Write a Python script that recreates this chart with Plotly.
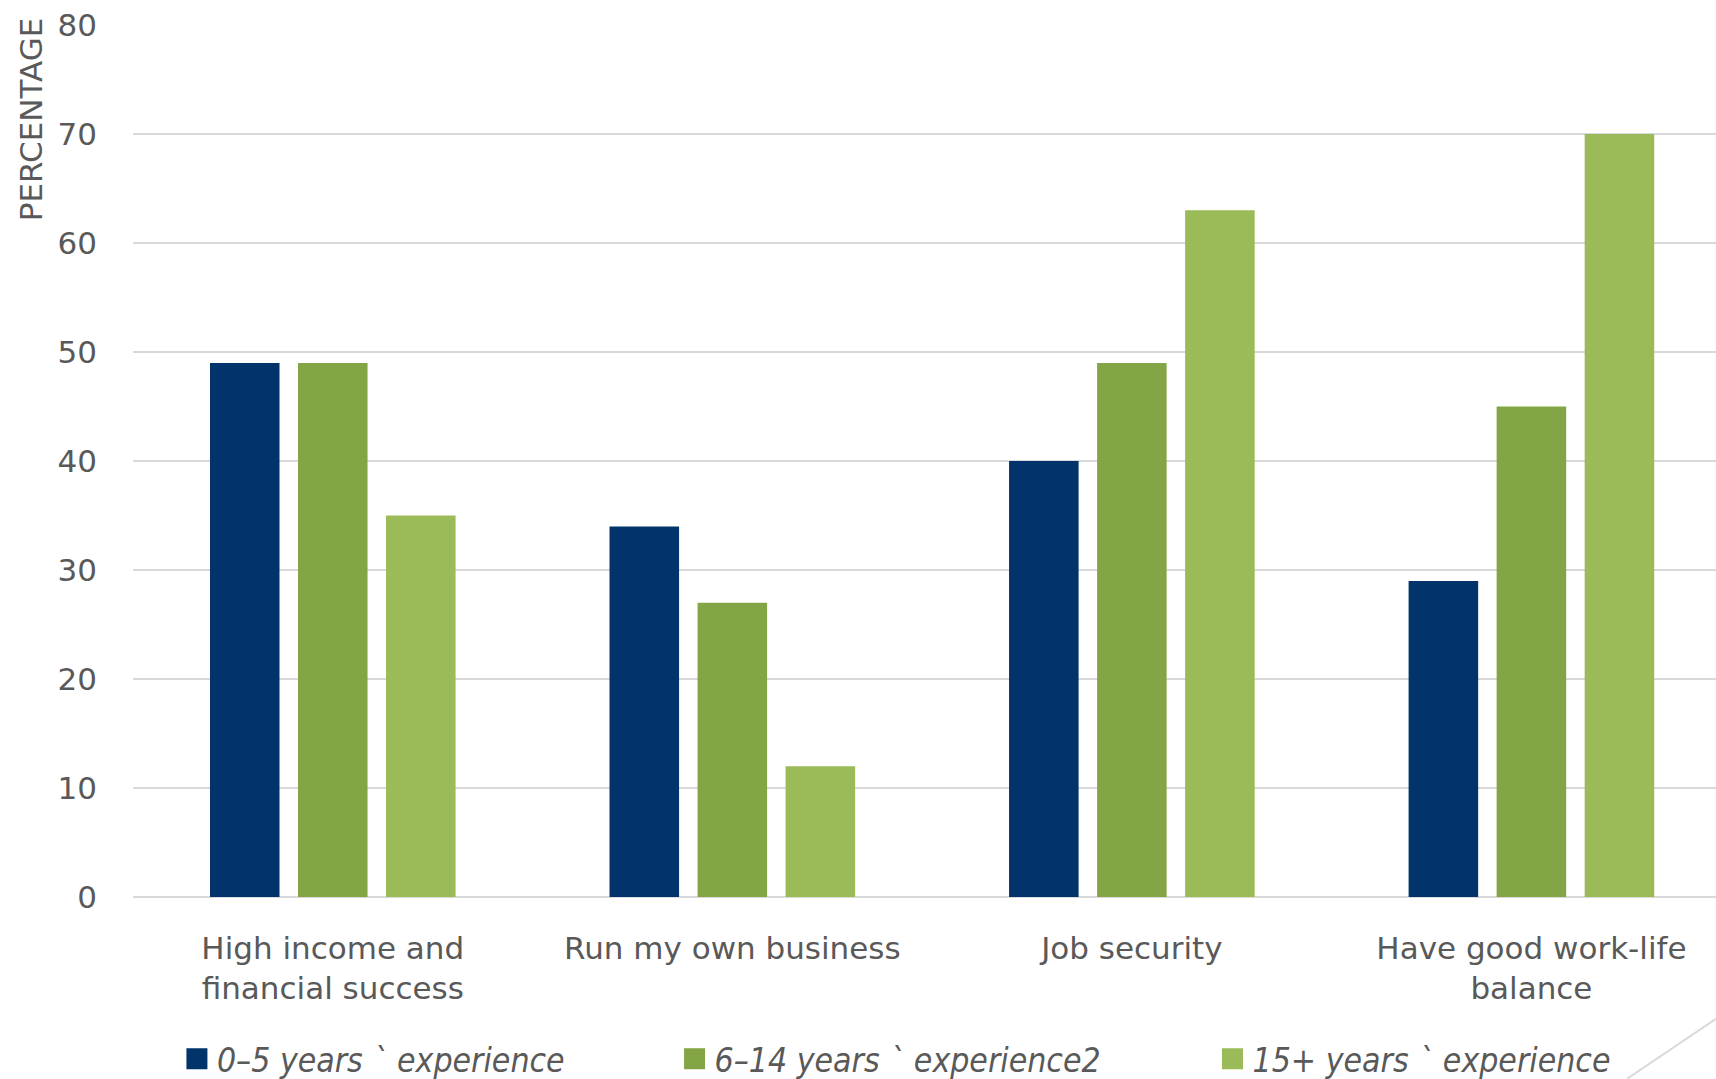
import plotly.graph_objects as go

categories = ["High income and<br>financial success", "Run my own business", "Job security", "Have good work-life<br>balance"]
series_names = ["0–5 years ` experience", "6–14 years ` experience2", "15+ years ` experience"]
vals_0_5 = [49, 34, 40, 29]
vals_6_14 = [49, 27, 49, 45]
vals_15 = [35, 12, 63, 70]
colors = ["#02346B", "#84A545", "#9BBB59"]
y_ticks = [0, 10, 20, 30, 40, 50, 60, 70, 80]

legend_ids = ["legend", "legend2", "legend3"]
legend_x = [0.1031, 0.3931, 0.7066]

text_col = "#595959"

fig = go.Figure()
for name, vals, col, lid in zip(series_names, [vals_0_5, vals_6_14, vals_15], colors, legend_ids):
    fig.add_trace(go.Bar(x=categories, y=vals, name=name, marker_color=col, marker_line_width=0,
                         showlegend=False, legendgroup=name))
    # legend entry (larger square swatch)
    fig.add_trace(go.Scatter(x=[None], y=[None], mode="markers", name=name, legendgroup=name, legend=lid,
                             marker=dict(symbol="square", size=16, color=col, line=dict(color=col, width=5))))

legend_common = dict(orientation="h", xref="container", yref="container", y=0.0185, yanchor="middle",
                     xanchor="left", bgcolor="rgba(0,0,0,0)",
                     font=dict(family="DejaVu Sans Condensed, DejaVu Sans", style="italic", size=33.5, color=text_col))
legends = {}
for lid, lx in zip(legend_ids, legend_x):
    legends[lid] = dict(legend_common, x=lx)

fig.update_layout(
    width=1716, height=1079,
    margin=dict(l=133, r=0, t=25, b=182, autoexpand=False),
    paper_bgcolor="white", plot_bgcolor="white",
    barmode="group", bargap=0.339, bargroupgap=0.21,
    font=dict(family="DejaVu Sans", color=text_col, size=31),
    showlegend=True,
    xaxis=dict(range=[-0.5, 3.462], showgrid=False, showline=False, ticks="", ticklabelstandoff=30,
               tickfont=dict(size=31, color=text_col)),
    yaxis=dict(range=[0, 80], tickvals=y_ticks, showgrid=True, gridcolor="#D9D9D9", gridwidth=2,
               zeroline=True, zerolinecolor="#D9D9D9", zerolinewidth=2, showline=False,
               ticklabelstandoff=35, tickfont=dict(size=31, color=text_col)),
    annotations=[dict(text="PERCENTAGE", textangle=-90, xref="paper", yref="paper", x=-0.0644, y=0.892,
                      showarrow=False, font=dict(size=31, color=text_col), xanchor="center", yanchor="middle")],
    shapes=[dict(type="line", xref="paper", yref="paper", x0=1.0, y0=-0.1397, x1=0.9438, y1=-0.2085,
                 line=dict(color="#D9D9D9", width=2))],
    **legends,
)
fig.write_html("out.html")
